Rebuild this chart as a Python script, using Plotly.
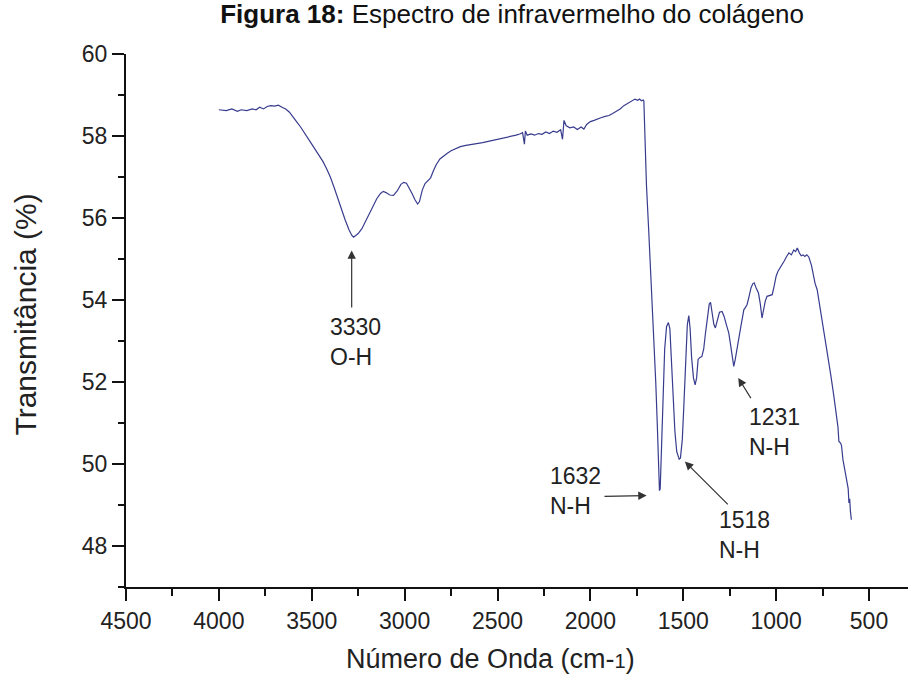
import plotly.graph_objects as go

# IR spectrum of collagen
wavenumber = [
    4000, 3960, 3930, 3900, 3880, 3850, 3820, 3800, 3780, 3760, 3740, 3720, 3700, 3680,
    3660, 3640, 3620, 3600, 3580, 3560, 3540, 3520, 3500, 3480, 3460, 3440, 3420, 3400,
    3380, 3360, 3340, 3320, 3300, 3285, 3275, 3265, 3250, 3230, 3210, 3190, 3170, 3150,
    3130, 3115, 3100, 3080, 3060, 3040, 3020, 3005, 2990, 2975, 2960, 2945, 2930, 2920,
    2905, 2890, 2875, 2860, 2845, 2830, 2810, 2790, 2770, 2750, 2720, 2700, 2670, 2640,
    2610, 2580, 2550, 2520, 2490, 2460, 2430, 2400, 2380, 2365, 2355, 2350, 2340, 2320,
    2300, 2280, 2260, 2240, 2220, 2200, 2180, 2160, 2150, 2142, 2130, 2110, 2090, 2070,
    2050, 2035, 2020, 2000, 1980, 1960, 1940, 1920, 1900, 1880, 1860, 1840, 1820, 1800,
    1780, 1760, 1745, 1735, 1725, 1715, 1712, 1708, 1698, 1686, 1672, 1659, 1648, 1640,
    1634, 1628, 1624, 1618, 1610, 1600, 1590, 1580, 1572, 1565, 1555, 1545, 1535, 1522,
    1515, 1505, 1495, 1485, 1478, 1470, 1463, 1455, 1445, 1436, 1428, 1420, 1410, 1400,
    1390, 1380, 1370, 1360, 1353, 1345, 1335, 1327, 1318, 1305, 1291, 1280, 1268, 1255,
    1245, 1235, 1228, 1220, 1210, 1201, 1190, 1180, 1174, 1165, 1156, 1145, 1135, 1125,
    1118, 1108, 1095, 1085, 1076, 1068, 1058, 1049, 1035, 1021, 1010, 1000, 990, 975,
    958, 945, 931, 918, 905, 895, 886, 875, 865, 855, 845, 835, 824, 810, 800, 790, 779,
    765, 750, 733, 720, 705, 689, 675, 667, 662, 653, 648, 640, 630, 617, 612, 608, 604,
    600, 595,
]
transmittance = [
    58.64, 58.62, 58.66, 58.60, 58.64, 58.62, 58.66, 58.64, 58.70, 58.66, 58.72, 58.74, 58.73, 58.75,
    58.70, 58.66, 58.58, 58.47, 58.34, 58.22, 58.07, 57.93, 57.80, 57.66, 57.53, 57.38, 57.20, 57.00,
    56.75, 56.48, 56.20, 55.95, 55.72, 55.58, 55.53, 55.56, 55.62, 55.74, 55.92, 56.10, 56.30, 56.47,
    56.60, 56.65, 56.62, 56.56, 56.55, 56.66, 56.82, 56.87, 56.85, 56.74, 56.60, 56.45, 56.34, 56.40,
    56.68, 56.84, 56.90, 56.98, 57.15, 57.30, 57.44, 57.52, 57.58, 57.64, 57.71, 57.74, 57.77, 57.79,
    57.81, 57.84, 57.87, 57.90, 57.92, 57.95, 57.98, 58.02, 58.05, 58.08, 57.80, 58.12, 58.02, 58.05,
    58.02, 58.06, 58.04, 58.10, 58.06, 58.12, 58.09, 58.15, 57.92, 58.38, 58.25, 58.20, 58.22, 58.16,
    58.22, 58.17, 58.28, 58.35, 58.38, 58.42, 58.45, 58.48, 58.50, 58.55, 58.60, 58.66, 58.74, 58.80,
    58.85, 58.90, 58.87, 58.90, 58.86, 58.88, 58.85, 58.20, 56.80, 55.70, 54.40, 53.20, 52.00, 51.00,
    50.00, 49.35, 49.40, 50.30, 51.60, 52.80, 53.35, 53.45, 53.30, 52.70, 51.60, 50.80, 50.30, 50.12,
    50.15, 50.60, 51.60, 52.80, 53.40, 53.62, 53.30, 52.60, 52.10, 51.93, 52.10, 52.55, 52.60, 52.62,
    52.80, 53.20, 53.60, 53.90, 53.94, 53.70, 53.40, 53.32, 53.50, 53.70, 53.72, 53.60, 53.40, 53.20,
    52.90, 52.50, 52.38, 52.55, 52.85, 53.11, 53.35, 53.60, 53.76, 53.82, 53.89, 54.10, 54.30, 54.40,
    54.42, 54.30, 54.17, 53.90, 53.56, 53.75, 53.98, 54.09, 54.12, 54.13, 54.35, 54.58, 54.70, 54.80,
    54.94, 55.05, 55.15, 55.10, 55.22, 55.18, 55.27, 55.15, 55.08, 55.10, 55.06, 55.10, 55.05, 54.85,
    54.60, 54.40, 54.25, 53.85, 53.50, 53.03, 52.60, 52.15, 51.65, 51.20, 50.90, 50.55, 50.51, 50.45,
    50.10, 49.85, 49.54, 49.40, 49.05, 49.15, 48.85, 48.64,
]

# peak labels: text position, arrow head, arrow tail (data units)
peak_labels = ["3330<br>O-H", "1632<br>N-H", "1518<br>N-H", "1231<br>N-H"]
label_x = [3411, 2228, 1320, 1158]
label_y = [52.98, 49.35, 48.26, 50.79]
head_x = [3285, 1697, 1491, 1204]
head_y = [55.21, 49.23, 50.06, 52.10]
tail_x = [3285, 1932, 1252, 1131]
tail_y = [53.78, 49.21, 48.98, 51.57]

FONT = "Liberation Sans, Arial, sans-serif"

fig = go.Figure()
fig.add_trace(go.Scatter(
    x=wavenumber, y=transmittance, mode="lines",
    line=dict(color="#383c8e", width=1.2),
    showlegend=False,
))

for txt, lx, ly in zip(peak_labels, label_x, label_y):
    fig.add_annotation(x=lx, y=ly, text=txt, showarrow=False, xanchor="left",
                       yanchor="middle", align="left",
                       font=dict(family=FONT, size=23, color="#222"))

for hx, hy, tx, ty in zip(head_x, head_y, tail_x, tail_y):
    fig.add_annotation(x=hx, y=hy, ax=tx, ay=ty, xref="x", yref="y",
                       axref="x", ayref="y", text="", showarrow=True,
                       arrowhead=2, arrowsize=1.4, arrowwidth=1.2,
                       arrowcolor="#333")

# axis titles placed as annotations to match reference positions
fig.add_annotation(xref="paper", yref="paper", x=0.466, y=-0.136,
                   xanchor="center", yanchor="middle",
                   text="Número de Onda (cm-<span style='font-size:20px'>1</span>)",
                   showarrow=False, font=dict(family=FONT, size=27, color="#222"))
fig.add_annotation(xref="paper", yref="paper", x=-0.128, y=0.511,
                   xanchor="center", yanchor="middle",
                   text="Transmitância (%)", textangle=-90,
                   showarrow=False, font=dict(family=FONT, size=30, color="#222"))

fig.update_layout(
    width=908, height=677,
    margin=dict(l=126, r=0, t=54, b=90),
    paper_bgcolor="white", plot_bgcolor="white",
    title=dict(text="<b>Figura 18:</b> Espectro de infravermelho do colágeno",
               x=0.564, xanchor="center", y=1 - 14 / 677, yanchor="middle",
               xref="container", yref="container",
               font=dict(family=FONT, size=26, color="#111")),
)

fig.update_xaxes(
    range=[4500, 290], tickvals=[4500, 4000, 3500, 3000, 2500, 2000, 1500, 1000, 500],
    ticks="outside", ticklen=12, tickwidth=2, tickcolor="#111",
    minor=dict(ticks="outside", ticklen=7, tickwidth=2, tickcolor="#111", dtick=250, tick0=0),
    showline=True, linewidth=2, linecolor="#111", showgrid=False, zeroline=False,
    tickfont=dict(family=FONT, size=23, color="#222"),
)
fig.update_yaxes(
    range=[47, 60], tickvals=[48, 50, 52, 54, 56, 58, 60],
    ticks="outside", ticklen=12, tickwidth=2, tickcolor="#111",
    minor=dict(ticks="outside", ticklen=6, tickwidth=2, tickcolor="#111", dtick=1, tick0=0),
    showline=True, linewidth=2, linecolor="#111", showgrid=False, zeroline=False,
    tickfont=dict(family=FONT, size=23, color="#222"),
)

# drop the default 8px body margin so the figure sits at the page corner
fig.write_html("out.html", config={"displayModeBar": False},
               post_script="document.body.style.margin='0';")
